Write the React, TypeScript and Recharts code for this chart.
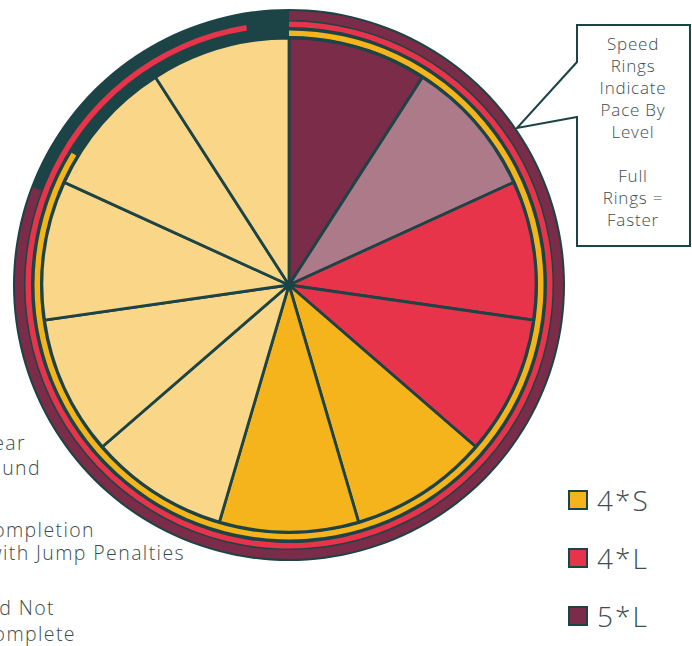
import { Cell, Pie, PieChart } from "recharts";

// 11 equal wedges, clockwise from 12 o'clock
const SLICE_LEVELS = ["5*L", "5*L", "4*L", "4*L", "4*S", "4*S", "none", "none", "none", "none", "none"];
const SLICE_SHADES = ["solid", "light", "solid", "solid", "solid", "solid", "solid", "solid", "solid", "solid", "solid"];
const SLICE_VALUES = [1, 1, 1, 1, 1, 1, 1, 1, 1, 1, 1];

// speed rings, outer to inner, % of a full ring
const RING_LEVELS = ["5*L", "4*L", "4*S"];
const RING_PACE = [80.8, 97.4, 83.7];

const LEGEND_LEVELS = ["4*S", "4*L", "5*L"];

const LEFT_LABELS = [["Clear", "Round"], ["Completion", "with Jump Penalties"], ["Did Not", "Complete"]];

const CALLOUT_LINES = ["Speed", "Rings", "Indicate", "Pace By", "Level", "", "Full", "Rings =", "Faster"];

const TEAL = "#1c4446";
const TEXT = "#3d4c4d";
const LEVEL_COLOR: Record<string, string> = {
  "5*L": "#7a2c48",
  "4*L": "#e8344b",
  "4*S": "#f5b31c",
  none: "#fad689",
};
const LIGHT_COLOR: Record<string, string> = { "5*L": "#ad7a8a" };

const CX = 289;
const CY = 285;
const RING_RADII: [number, number][] = [[265, 274], [258, 263.5], [249, 254.5]];

// right edge / baseline of each left label line (text runs off the left edge)
const LEFT_X = [[26, 41], [95, 185], [55, 76]];
const LEFT_Y = [[450, 475], [537, 560], [615, 641]];

const slices = SLICE_VALUES.map((value, i) => ({ level: SLICE_LEVELS[i], shade: SLICE_SHADES[i], value }));

export default function App() {
  return (
    <div style={{ position: "relative", width: 692, height: 646, fontFamily: "'Open Sans', sans-serif" }}>
      <style>{"body{margin:0}"}</style>
      <PieChart width={692} height={646} margin={{ top: 0, right: 0, bottom: 0, left: 0 }}>
        <Pie
          data={[{ value: 1 }]}
          dataKey="value"
          cx={CX}
          cy={CY}
          outerRadius={276}
          fill={TEAL}
          stroke="none"
          isAnimationActive={false}
        />
        {RING_LEVELS.map((lvl, i) => (
          <Pie
            key={lvl}
            data={[{ value: RING_PACE[i] }, { value: 100 - RING_PACE[i] }]}
            dataKey="value"
            cx={CX}
            cy={CY}
            startAngle={90}
            endAngle={-270}
            innerRadius={RING_RADII[i][0]}
            outerRadius={RING_RADII[i][1]}
            stroke="none"
            isAnimationActive={false}
          >
            <Cell fill={LEVEL_COLOR[lvl]} />
            <Cell fill="transparent" />
          </Pie>
        ))}
        <Pie
          data={slices}
          dataKey="value"
          cx={CX}
          cy={CY}
          startAngle={90}
          endAngle={-270}
          outerRadius={247}
          stroke={TEAL}
          strokeWidth={2.8}
          isAnimationActive={false}
        >
          {slices.map((s, i) => (
            <Cell key={i} fill={s.shade === "light" ? LIGHT_COLOR[s.level] : LEVEL_COLOR[s.level]} />
          ))}
        </Pie>
      </PieChart>

      <svg width={692} height={646} style={{ position: "absolute", left: 0, top: 0, pointerEvents: "none" }}>
        {/* callout box with pointer */}
        <path
          d="M577 62 L577 25 L690 25 L690 246 L577 246 L577 117 L517 128 Z"
          fill="#fff"
          stroke={TEAL}
          strokeWidth={2}
        />
        {CALLOUT_LINES.map((t, i) => (
          <text
            key={i}
            x={633}
            y={50 + i * 22}
            textAnchor="middle"
            fontSize={17}
            fontWeight={300}
            letterSpacing={0.8}
            fill={TEXT}
          >
            {t}
          </text>
        ))}

        {LEFT_LABELS.map((lines, i) =>
          lines.map((t, j) => (
            <text
              key={i + "-" + j}
              x={LEFT_X[i][j]}
              y={LEFT_Y[i][j]}
              textAnchor="end"
              fontSize={19.5}
              fontWeight={300}
              letterSpacing={1.4}
              fill={TEXT}
            >
              {t}
            </text>
          ))
        )}

        {LEGEND_LEVELS.map((lvl, i) => (
          <g key={lvl}>
            <rect x={569} y={491 + i * 58} width={18} height={18} fill={LEVEL_COLOR[lvl]} stroke={TEAL} strokeWidth={2} />
            <text x={597} y={511 + i * 58} fontSize={28} fontWeight={300} letterSpacing={2} fill={TEXT}>
              {lvl}
            </text>
          </g>
        ))}
      </svg>
    </div>
  );
}
